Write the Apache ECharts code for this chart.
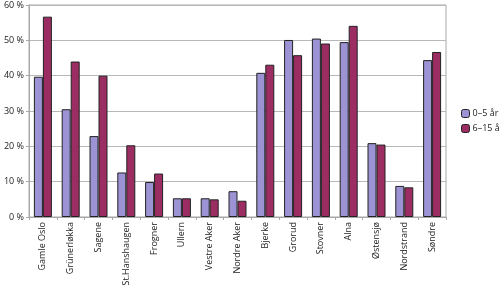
<!DOCTYPE html>
<html><head><meta charset="utf-8">
<script src="https://cdn.jsdelivr.net/npm/echarts@6/dist/echarts.min.js"></script>
<style>html,body{margin:0;padding:0;background:#fff}#c{width:500px;height:290px}</style>
</head><body><div id="c"></div>
<script>
const categories = ['Gamle Oslo','Grünerløkka','Sagene','St.Hanshaugen','Frogner','Ullern','Vestre Aker','Nordre Aker','Bjerke','Grorud','Stovner','Alna','Østensjø','Nordstrand','Søndre'];
const age0to5 = [39.7, 30.5, 22.9, 12.6, 9.9, 5.3, 5.3, 7.3, 40.8, 50.1, 50.5, 49.5, 20.9, 8.8, 44.4];
const age6to15 = [56.7, 44.0, 40.0, 20.3, 12.3, 5.3, 5.0, 4.6, 43.1, 45.8, 49.1, 54.1, 20.5, 8.4, 46.7];
const seriesNames = ['0–5 år', '6–15 år'];
const yTicks = [0, 10, 20, 30, 40, 50, 60];

const chart = echarts.init(document.getElementById('c'), null, {renderer: 'canvas'});
const font = 'Open Sans';
chart.setOption({
  animation: false,
  grid: {left: 29, right: 54, top: 5, bottom: 73, show: true, borderColor: '#a8a8a8', borderWidth: 1},
  legend: {
    orient: 'vertical', left: 456, top: 104, itemWidth: 8, itemHeight: 8, itemGap: 6,
    textStyle: {fontFamily: font, fontSize: 9, color: '#222', padding: [0,0,0,-2]},
    itemStyle: {borderColor: '#222', borderWidth: 1},
    data: seriesNames
  },
  xAxis: {
    type: 'category', data: categories,
    axisLine: {lineStyle: {color: '#a8a8a8'}},
    axisTick: {show: true, length: 3, lineStyle: {color: '#a8a8a8'}, alignWithLabel: false},
    axisLabel: {rotate: 90, margin: 5, fontFamily: font, fontSize: 9, color: '#222', interval: 0}
  },
  yAxis: {
    type: 'value', min: yTicks[0], max: yTicks[yTicks.length-1], interval: 10,
    axisLine: {show: true, lineStyle: {color: '#a8a8a8'}},
    axisTick: {show: true, length: 3, lineStyle: {color: '#a8a8a8'}},
    splitLine: {lineStyle: {color: '#b8b8b8'}},
    axisLabel: {formatter: v => v + ' %', fontFamily: font, fontSize: 9, color: '#222', margin: 5}
  },
  series: [
    {name: seriesNames[0], type: 'bar', data: age0to5, barWidth: 9, barGap: '0%',
     itemStyle: {color: '#9b93d3', borderColor: '#222', borderWidth: 1}},
    {name: seriesNames[1], type: 'bar', data: age6to15, barWidth: 9, barGap: '0%',
     itemStyle: {color: '#9c2d63', borderColor: '#222', borderWidth: 1}}
  ]
});
</script></body></html>
